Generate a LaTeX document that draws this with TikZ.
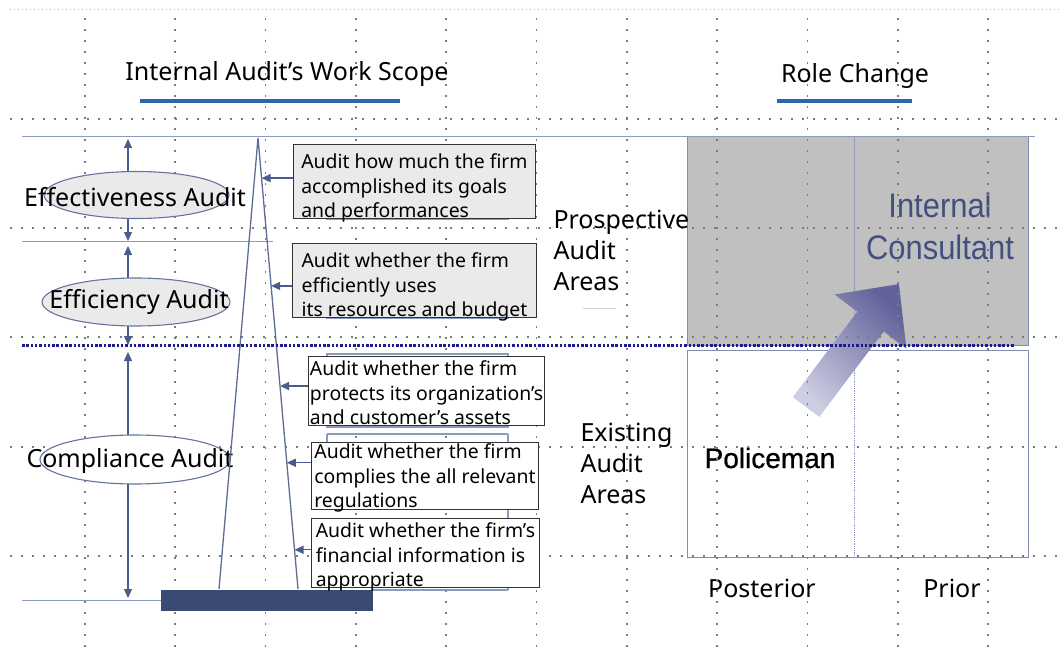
\documentclass[tikz,border=0pt]{standalone}
\usepackage{fontspec}
\setmainfont{Noto Sans}
\newfontfamily\arialfont{Liberation Sans}
\newfontfamily\policefont[FakeBold=0.8]{Liberation Sans}
\newfontfamily\narrowfont[FakeStretch=0.91]{Liberation Sans}
\usetikzlibrary{arrows.meta,calc,shapes.geometric}

\definecolor{lineblue}{HTML}{4A5C8C}
\definecolor{thinblue}{HTML}{8C9AC0}
\definecolor{titleblue}{HTML}{2E64A8}
\definecolor{navydot}{HTML}{1C1C8E}
\definecolor{barblue}{HTML}{3B4A72}
\definecolor{boxgray}{HTML}{EAEAEA}
\definecolor{rectgray}{HTML}{C0C0C0}
\definecolor{consultblue}{HTML}{42507F}
\definecolor{arrowlight}{HTML}{CDCEE2}
\definecolor{arrowdark}{HTML}{62629A}
\definecolor{gridgray}{HTML}{7C7C7C}

\newcommand\labelsize{\fontsize{25}{31}\selectfont}
\newcommand\boxsize{\fontsize{19.4}{24.5}\selectfont}

\tikzset{
  gridline/.style={gridgray, line width=1.7pt, dash pattern=on 1.7pt off 9.3pt},
  auditell/.style={ellipse, draw=lineblue!85, line width=1.1pt, inner sep=0pt},
  auditbox/.style={draw=black!80, line width=0.9pt, anchor=north west,
    inner xsep=1.5pt, inner ysep=-8pt, align=left, font=\boxsize,
    execute at begin node={\rule{0pt}{#1}}},
  auditbox/.default=77pt,
  backbox/.style={draw=thinblue, line width=1.2pt},
  scopearrow/.style={lineblue, line width=1.4pt, -{Triangle[length=9pt,width=8pt]}},
  bothtip/.style={lineblue, line width=1.3pt,
    {Triangle[length=9pt,width=8pt]}-{Triangle[length=9pt,width=8pt]}},
}

\begin{document}
\begin{tikzpicture}[x=1pt, y=-1pt, nodes={font=\labelsize}]
  \useasboundingbox (0,0) rectangle (1062,655);

  % role change matrix
  \draw[fill=rectgray, draw=lineblue!70, line width=1pt] (687,137) rectangle (1028,345);
  \draw[lineblue!60, line width=0.8pt] (854,137) -- (854,345);
  \draw[draw=lineblue!70, line width=1pt] (687,350) rectangle (1028,557);
  \draw[thinblue, line width=0.8pt, densely dotted] (854,350) -- (854,557);
  \node[font=\narrowfont\fontsize{34}{42}\selectfont, text=consultblue, align=center]
    (consult) at (940,226) {Internal\\Consultant};
  \node[font=\policefont\fontsize{28}{30}\selectfont] (police) at (770,458) {Policeman};
  \node (posterior) at (762,588) {Posterior};
  \node (prior) at (952,588) {Prior};

  % big arrow from policeman to consultant
  \shade[top color=arrowdark, bottom color=arrowlight, shading angle=-45]
    (792.8,397.1) -- (857.3,311.7) -- (834.6,294.5) -- (898.9,284.1)
    -- (906.4,348.7) -- (883.7,331.5) -- (819.2,416.9) -- cycle;

  % background grid
  \draw[thinblue!70, line width=1pt, dash pattern=on 1pt off 3pt] (10,10) -- (1062,10);
  \foreach \gx in {85,175.3,...,989} {
    \draw[gridline] (\gx,18) -- (\gx,655);
  }
  \foreach \gy in {119,228,337,447,556} {
    \draw[gridline] (10,\gy) -- (1062,\gy);
  }

  % titles
  \node (scopetitle) at (287,74) {Internal Audit’s Work Scope};
  \draw[titleblue, line width=3.5pt] (140,101) -- (400,101);
  \node (roletitle) at (855,76) {Role Change};
  \draw[titleblue, line width=3.5pt] (777,101) -- (912,101);

  % band lines
  \draw[thinblue, line width=1pt] (22,137) -- (1035,137);
  \draw[thinblue, line width=1pt] (22,241) -- (273,241);
  \draw[thinblue, line width=1pt] (22,600) -- (161,600);

  % scale arrows on the left
  \coordinate (s1) at (128,139);
  \coordinate (s2) at (128,241);
  \coordinate (s3) at (128,246);
  \coordinate (s4) at (128,345);
  \coordinate (s5) at (128,352);
  \coordinate (s6) at (128,598);
  \draw[bothtip] (s1) -- (s2);
  \draw[bothtip] (s3) -- (s4);
  \draw[bothtip] (s5) -- (s6);

  % audit kinds
  \node[auditell, fill=boxgray, minimum width=185, minimum height=47] (effell) at (136.5,195) {};
  \node (eff) at (135,197) {Effectiveness Audit};
  \node[auditell, fill=boxgray, minimum width=188, minimum height=48] (efiell) at (136,302) {};
  \node (efi) at (139,302) {Efficiency Audit};
  \node[auditell, fill=white, minimum width=190, minimum height=49] (compell) at (135,459.5) {};
  \node (comp) at (130,461) {Compliance Audit};

  % scope triangle
  \coordinate (apex) at (258,138);
  \coordinate (lbase) at (219,589);
  \coordinate (rbase) at (298,589);
  \draw[lineblue!90, line width=1.3pt] (lbase) -- (apex) -- (rbase);
  \fill[barblue] (161,590) rectangle (373,611);
  \draw[thinblue, line width=1.2pt] (373,590) -- (508,590);

  % boxes behind the texts
  \draw[backbox] (327,150) rectangle (508,219);
  \draw[backbox] (327,250) rectangle (508,318);
  \draw[backbox] (327,354) rectangle (508,427);
  \draw[backbox] (327,434) -- (327,442);
  \draw[backbox] (508,434) -- (508,590);
  \draw[backbox] (327,434) -- (508,434);

  % audit descriptions
  \node[auditbox, fill=boxgray, minimum width=242, minimum height=74] (b1) at (293,144)
    {Audit how much the firm\\accomplished its goals\\and performances};
  \node[auditbox, fill=boxgray, minimum width=244, minimum height=74] (b2) at (292,243)
    {Audit whether the firm\\efficiently uses\\its resources and budget};
  \node[auditbox=68pt, fill=white, minimum width=235, minimum height=69] (b3) at (308,356)
    {Audit whether the firm\\protects its organization’s\\and customer’s assets};
  \node[auditbox=68pt, fill=white, minimum width=227, minimum height=67] (b4) at (311,442)
    {Audit whether the firm\\complies the all relevant\\regulations};
  \node[auditbox=72pt, fill=white, minimum width=228, minimum height=69] (b5) at (311,518)
    {Audit whether the firm’s\\financial information is\\appropriate};

  % arrows to the triangle
  \foreach \b/\t in {b1/0.089, b2/0.328, b3/0.55, b4/0.72, b5/0.913} {
    \coordinate (t\b) at ($(apex)!\t!(rbase)$);
    \draw[scopearrow] (\b.west |- t\b) -- (t\b);
  }

  % area labels
  \node[align=left, anchor=west] (prosp) at (550,250) {Prospective\\Audit\\Areas};
  \draw[gray!35, line width=1pt] (583,308) -- (616,308);
  \node[align=left, anchor=west] (exist) at (577,463) {Existing\\Audit\\Areas};

  % border between prospective and existing
  \draw[navydot, line width=3pt, dash pattern=on 2.5pt off 1.8pt] (22,345) -- (1015,345);
\end{tikzpicture}
\end{document}
